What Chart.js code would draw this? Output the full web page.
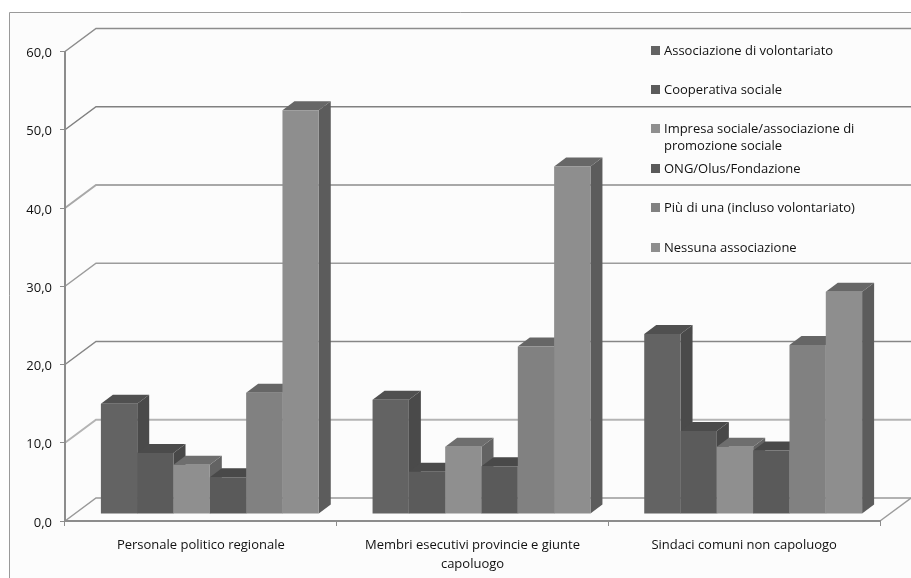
<!DOCTYPE html>
<html>
<head>
<meta charset="utf-8">
<title>Associazioni</title>
<script src="https://cdn.jsdelivr.net/npm/chart.js@4/dist/chart.umd.min.js"></script>
<style>
  html, body { margin: 0; padding: 0; background: #fff; }
  #wrap { position: relative; width: 911px; height: 578px; overflow: hidden; }
</style>
</head>
<body>
<div id="wrap"><canvas id="chart" width="911" height="578"></canvas></div>
<script>
const categories = [
  "Personale politico regionale",
  ["Membri esecutivi provincie e giunte", "capoluogo"],
  "Sindaci comuni non capoluogo"
];
const seriesNames = [
  "Associazione di volontariato",
  "Cooperativa sociale",
  "Impresa sociale/associazione di promozione sociale",
  "ONG/Olus/Fondazione",
  "Più di una (incluso volontariato)",
  "Nessuna associazione"
];
const volontariato = [14.1, 14.6, 23.0];
const cooperativa = [7.8, 5.4, 10.6];
const impresa = [6.3, 8.6, 8.6];
const ong = [4.7, 6.1, 8.1];
const piuDiUna = [15.5, 21.4, 21.6];
const nessuna = [51.6, 44.4, 28.4];
const seriesValues = [volontariato, cooperativa, impresa, ong, piuDiUna, nessuna];
const tickValues = [0, 10, 20, 30, 40, 50, 60];

const frontColors = ["#636363", "#5b5b5b", "#8f8f8f", "#5a5a5a", "#818181", "#8e8e8e"];
const topColors = ["#505050", "#4b4b4b", "#6e6e6e", "#494949", "#666666", "#676767"];
const sideColors = ["#4a4a4a", "#484848", "#636363", "#454545", "#5a5a5a", "#5c5c5c"];
const gridColors = ["#999999", "#b4b4b4", "#868686", "#9c9c9c", "#a8a8a8", "#808080", "#8c8c8c"];
const gridWidths = [1.5, 2, 1.5, 1.5, 2, 1.5, 1.5];

const FONT = "'Open Sans', sans-serif";
const TEXT_COLOR = "#111111";
const DEPTH_X = 31, DEPTH_Y = 23;      // wall offset from the front axis
const BAR_DX = 9, BAR_DY = 7;          // bars stand a little way into the floor
const BAR_SIDE_X = 12, BAR_SIDE_Y = 9; // visible depth of each bar

function line(ctx, pts, color, width) {
  ctx.beginPath();
  pts.forEach((p, i) => i ? ctx.lineTo(p[0], p[1]) : ctx.moveTo(p[0], p[1]));
  ctx.strokeStyle = color;
  ctx.lineWidth = width;
  ctx.stroke();
}

function poly(ctx, pts, color) {
  ctx.beginPath();
  pts.forEach((p, i) => i ? ctx.lineTo(p[0], p[1]) : ctx.moveTo(p[0], p[1]));
  ctx.closePath();
  ctx.fillStyle = color;
  ctx.fill();
}

// frame and back wall with the diagonal gridlines
const wallPlugin = {
  id: "wall",
  beforeDraw(chart) {
    const ctx = chart.ctx, y = chart.scales.y, x = chart.scales.x;
    ctx.save();
    ctx.fillStyle = "#fcfcfc";
    ctx.fillRect(9, 12, 902, 566);
    line(ctx, [[9.5, 578], [9.5, 12.5], [911, 12.5]], "#9a9a9a", 1);
    tickValues.forEach((v, i) => {
      const py = y.getPixelForValue(v);
      line(ctx, [[x.left, py], [x.left + DEPTH_X, py - DEPTH_Y], [chart.width, py - DEPTH_Y]], gridColors[i], gridWidths[i]);
    });
    line(ctx, [[x.right, y.bottom], [x.right + DEPTH_X, y.bottom - DEPTH_Y]], "#9c9c9c", 1.5);
    ctx.restore();
  }
};

// 3D bars, painted left to right so each front covers the side of the previous bar
const barsPlugin = {
  id: "bars3d",
  beforeDatasetsDraw(chart) {
    const ctx = chart.ctx;
    ctx.save();
    ctx.translate(BAR_DX, -BAR_DY);
    chart.data.datasets.forEach((ds, i) => {
      chart.getDatasetMeta(i).data.forEach(bar => {
        const left = bar.x - bar.width / 2, right = bar.x + bar.width / 2;
        const top = bar.y, base = bar.base;
        poly(ctx, [[right, top], [right + BAR_SIDE_X, top - BAR_SIDE_Y], [right + BAR_SIDE_X, base - BAR_SIDE_Y], [right, base]], sideColors[i]);
        poly(ctx, [[left, top], [left + BAR_SIDE_X, top - BAR_SIDE_Y], [right + BAR_SIDE_X, top - BAR_SIDE_Y], [right, top]], topColors[i]);
        bar.draw(ctx);
      });
    });
    ctx.restore();
    return false;
  }
};

const legendY = [51, 90, 129, 169, 208, 248];

function wrapLabel(ctx, text, maxWidth) {
  const rows = [];
  let row = "";
  text.split(" ").forEach(word => {
    const next = row ? row + " " + word : word;
    if (ctx.measureText(next).width > maxWidth && row) {
      rows.push(row);
      row = word;
    } else {
      row = next;
    }
  });
  rows.push(row);
  return rows;
}

const legendPlugin = {
  id: "sideLegend",
  afterDraw(chart) {
    const ctx = chart.ctx;
    ctx.save();
    ctx.font = "13px " + FONT;
    ctx.textBaseline = "middle";
    chart.data.datasets.forEach((ds, i) => {
      ctx.fillStyle = frontColors[i];
      ctx.fillRect(651, legendY[i] - 5, 9, 9);
      ctx.fillStyle = TEXT_COLOR;
      wrapLabel(ctx, ds.label, 205).forEach((row, r) => {
        ctx.fillText(row, 664, legendY[i] + r * 17);
      });
    });
    ctx.restore();
  }
};

new Chart(document.getElementById("chart"), {
  type: "bar",
  data: {
    labels: categories,
    datasets: seriesNames.map((name, i) => ({
      label: name,
      data: seriesValues[i],
      backgroundColor: frontColors[i],
      borderWidth: 0,
      categoryPercentage: 0.802,
      barPercentage: 1
    }))
  },
  options: {
    responsive: false,
    animation: false,
    layout: { padding: { left: 0, right: 31, top: 51.5, bottom: 0 } },
    plugins: { legend: { display: false }, tooltip: { enabled: false } },
    scales: {
      x: {
        afterFit(s) { s.height = 57; },
        grid: { drawOnChartArea: false, tickLength: 5, color: "#8c8c8c", lineWidth: 1 },
        border: { color: "#8c8c8c", width: 2 },
        ticks: { color: TEXT_COLOR, font: { family: FONT, size: 13, lineHeight: 1.45 }, padding: 10, maxRotation: 0, autoSkip: false }
      },
      y: {
        min: 0,
        max: 60,
        afterFit(s) { s.width = 65; },
        afterBuildTicks(s) { s.ticks = tickValues.map(v => ({ value: v })); },
        grid: { drawOnChartArea: false, tickLength: 5, color: "#8c8c8c", lineWidth: 1 },
        border: { color: "#8c8c8c", width: 2 },
        ticks: {
          color: TEXT_COLOR,
          font: { family: FONT, size: 13 },
          padding: 8,
          labelOffset: 2,
          callback: v => v.toFixed(1).replace(".", ",")
        }
      }
    }
  },
  plugins: [wallPlugin, barsPlugin, legendPlugin]
});
</script>
</body>
</html>
